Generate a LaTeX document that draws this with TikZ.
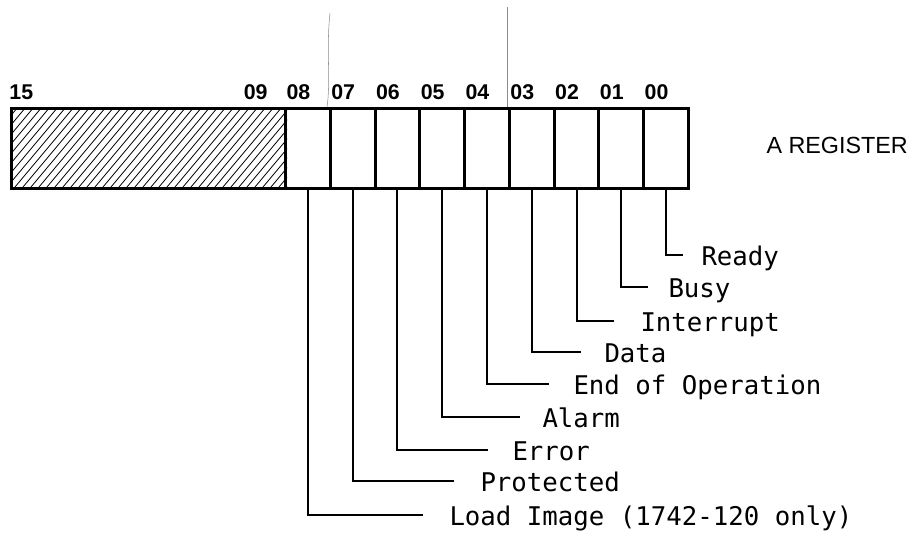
\documentclass[tikz,border=0pt]{standalone}
\usepackage{fontspec}
\newfontfamily\flagfont{DejaVu Sans Mono}
\newfontfamily\bitfont{Liberation Sans}
\tikzset{every picture/.style={line width=0.75pt}}
\tikzset{
  cellbox/.style={draw, line width=2.25pt, minimum width=33.6pt, minimum height=60pt, inner sep=0pt, anchor=north west},
  bitnum/.style={font=\bitfont\fontsize{16}{16}\selectfont\bfseries, inner sep=0pt},
  flaglbl/.style={font=\flagfont\fontsize{19.3}{19.3}\selectfont, anchor=base west, inner sep=0pt},
  leader/.style={line width=1.5pt},
  hatchline/.style={line width=0.6pt},
  foldline/.style={line width=0.4pt, black!45},
}

\begin{document}
\begin{tikzpicture}[x=0.75pt,y=0.75pt,yscale=-1]
\useasboundingbox (0,0) rectangle (911,533);

%fold marks of the scan
\draw [foldline] (330,13) .. controls (326,50) and (331,80) .. (327,107) ;
\draw [foldline] (507,7) -- (507,107) ;

%Shape: unused bits 15-09, hatched
\node [cellbox, minimum width=205.5pt] (unused) at (10,107) {};
\begin{scope}
\clip (unused.south west) rectangle (unused.north east);
\foreach \k in {0,...,43}
  \draw [hatchline] (\k*8-57,187) -- ++(67,-80);
\end{scope}
\node [cellbox, minimum width=205.5pt] at (10,107) {};

%Shape: bit cells 08-00
\foreach \b [count=\i from 0] in {08,07,06,05,04,03,02,01,00}
  \node [cellbox] (c\b) at (284+\i*44.78,107) {};

% Text Node: bit numbers
\node [bitnum, anchor=south west] (n15) at (9,100) {15};
\node [bitnum, anchor=south east] (n09) at (268,100) {09};
\foreach \b [count=\i from 0] in {08,07,06,05,04,03,02,01,00}
  \node [bitnum, anchor=south west] (n\b) at (286+\i*44.78,100) {\b};

% Text Node
\node [font=\bitfont\fontsize{17.5}{17.5}\selectfont, anchor=base west, inner sep=0pt] (regname) at (766,153) {A REGISTER};

%Straight Lines: leaders to the status names
\foreach \b/\ex/\ey/\tx/\txt in {
    08/423/515/449/{Load Image (1742-120 only)},
    07/454/481/480/{Protected},
    06/488/450/512/{Error},
    05/520/417/542/{Alarm},
    04/549/384/573/{End of Operation},
    03/581/352/604/{Data},
    02/614/321/640/{Interrupt},
    01/648/287/668/{Busy},
    00/683/255/701/{Ready}}
{
  \coordinate (e\b) at (\ex,\ey);
  \node [flaglbl] (l\b) at (\tx,\ey+10) {\txt};
  \draw [leader] (c\b.south) |- (e\b);
}

\end{tikzpicture}
\end{document}
